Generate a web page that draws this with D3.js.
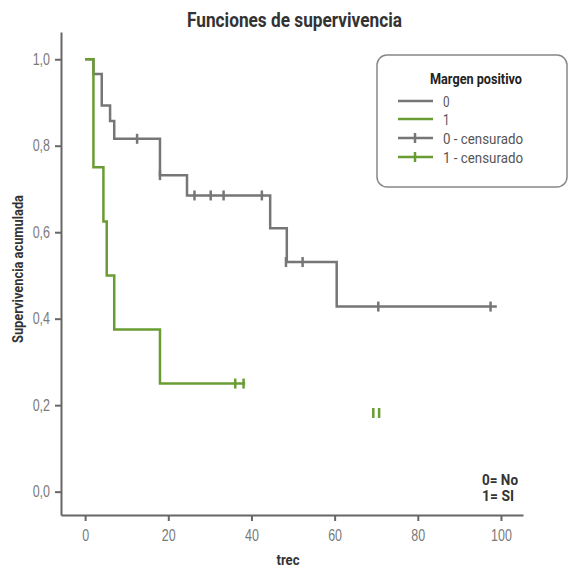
<!DOCTYPE html>
<html>
<head>
<meta charset="utf-8">
<script src="https://cdn.jsdelivr.net/npm/d3@7"></script>
<style>
  body { margin: 0; background: #fff; }
  svg { font-family: Roboto, "Liberation Sans", sans-serif; }
</style>
</head>
<body>
<svg></svg>
<script>
// Data: Kaplan-Meier steps
const timesG0 = [0, 2, 4, 6, 7, 18, 24.5, 44.5, 48.5, 60.5];
const survG0 = [1, 0.966, 0.893, 0.857, 0.816, 0.732, 0.685, 0.609, 0.531, 0.428];
const endG0 = 99;
const censTimeG0 = [12.5, 18, 26.3, 30.2, 33.3, 42.5, 48.3, 52.3, 70.5, 97.5];
const censSurvG0 = [0.816, 0.732, 0.685, 0.685, 0.685, 0.685, 0.531, 0.531, 0.428, 0.428];

const timesG1 = [0, 2, 4.4, 5.2, 7, 18];
const survG1 = [1, 0.75, 0.625, 0.5, 0.375, 0.25];
const endG1 = 38.5;
const censTimeG1 = [36.1, 38.1, 69.3, 70.7];
const censSurvG1 = [0.25, 0.25, 0.182, 0.182];

const xTicks = [0, 20, 40, 60, 80, 100];
const yTicks = [0, 0.2, 0.4, 0.6, 0.8, 1.0];
const legendLabels = ['0', '1', '0 - censurado', '1 - censurado'];

// Constants
const width = 569;
const height = 568;
const gray = '#767676';
const green = '#6a9c34';
const axisColor = '#666';
const squeeze = 0.78; // condensed look

const svg = d3.select('svg')
    .attr('width', width)
    .attr('height', height);

// scales
const x = d3.scaleLinear().domain([-5.8, 105.3]).range([61, 523]);
const y = d3.scaleLinear().domain([-0.054, 1.063]).range([515, 32]);

const comma = d3.formatLocale({decimal: ',', thousands: '.', grouping: [3], currency: ['', '']}).format('.1f');

// axes
const xAxis = svg.append('g')
    .attr('transform', 'translate(0, 515)')
    .call(d3.axisBottom(x).tickValues(xTicks).tickSize(6).tickSizeOuter(0).tickPadding(9));

const yAxis = svg.append('g')
    .attr('transform', 'translate(61, 0)')
    .call(d3.axisLeft(y).tickValues(yTicks).tickSize(6).tickSizeOuter(0).tickPadding(5).tickFormat(comma));

[xAxis, yAxis].forEach(a => {
    a.select('.domain').attr('stroke', axisColor).attr('stroke-width', 2);
    a.selectAll('.tick line').attr('stroke', axisColor).attr('stroke-width', 2);
    a.selectAll('.tick text')
        .attr('fill', '#7a7a7a')
        .style('font-size', '16px')
        .style('font-family', 'inherit');
});
xAxis.selectAll('.tick text').attr('transform', `scale(${squeeze},1)`);
yAxis.selectAll('.tick text')
    .attr('x', -11 / squeeze)
    .attr('transform', `scale(${squeeze},1)`);

// survival curves
const step = d3.line()
    .x(d => x(d[0]))
    .y(d => y(d[1]))
    .curve(d3.curveStepAfter);

function curve(times, surv, end, color) {
    const pts = times.map((t, i) => [t, surv[i]]);
    pts.push([end, surv[surv.length - 1]]);
    svg.append('path')
        .attr('d', step(pts))
        .attr('fill', 'none')
        .attr('stroke', color)
        .attr('stroke-width', 2.5);
}

function censors(times, surv, color) {
    svg.append('g').selectAll('line')
        .data(times).enter().append('line')
        .attr('x1', d => x(d))
        .attr('x2', d => x(d))
        .attr('y1', (d, i) => y(surv[i]) - 5)
        .attr('y2', (d, i) => y(surv[i]) + 5)
        .attr('stroke', color)
        .attr('stroke-width', 2.5);
}

curve(timesG0, survG0, endG0, gray);
censors(censTimeG0, censSurvG0, gray);
curve(timesG1, survG1, endG1, green);
censors(censTimeG1, censSurvG1, green);

// condensed text helper: squeeze to a given width, or by the squeeze factor
function label(parent, txt, xPos, yPos, len, opts) {
    const g = parent.append('g').attr('transform', `translate(${xPos}, ${yPos})`);
    const t = g.append('text')
        .attr('fill', opts.fill || '#333')
        .attr('text-anchor', opts.anchor || 'start')
        .style('font-size', opts.size + 'px')
        .style('font-weight', opts.bold ? 'bold' : 'normal')
        .text(txt);
    if (len) t.attr('textLength', len).attr('lengthAdjust', 'spacingAndGlyphs');
    else t.attr('transform', `scale(${squeeze},1)`);
    return t;
}

// titles
label(svg, 'Funciones de supervivencia', 294.5, 27, 215, {anchor: 'middle', size: 20, bold: true});

const yLab = svg.append('g').attr('transform', 'translate(23, 269) rotate(-90)');
label(yLab, 'Supervivencia acumulada', 0, 0, 148, {anchor: 'middle', size: 14, bold: true});

label(svg, 'trec', 288, 565, 23, {anchor: 'middle', size: 15, bold: true});

// legend
const legend = svg.append('g');
legend.append('rect')
    .attr('x', 377).attr('y', 55)
    .attr('width', 190).attr('height', 132)
    .attr('rx', 10)
    .attr('fill', '#fff')
    .attr('stroke', '#888')
    .attr('stroke-width', 1.5);

label(legend, 'Margen positivo', 476, 84, 92, {anchor: 'middle', size: 15, bold: true, fill: '#222'});

const legendColors = [gray, green, gray, green];
const rowY = [101, 119, 138, 157];
const labelLen = [null, null, 80, 80];

legendLabels.forEach((d, i) => {
    const g = legend.append('g').attr('transform', `translate(0, ${rowY[i]})`);
    g.append('line')
        .attr('x1', 398).attr('x2', 433)
        .attr('stroke', legendColors[i])
        .attr('stroke-width', 2.5);
    if (i >= 2) {
        g.append('line')
            .attr('x1', 415).attr('x2', 415)
            .attr('y1', -5).attr('y2', 5)
            .attr('stroke', legendColors[i])
            .attr('stroke-width', 2.5);
    }
    label(g, d, 443, 5.5, labelLen[i], {size: 15, fill: '#555'});
});

// note
label(svg, '0= No', 482, 485, 36, {size: 14, bold: true});
label(svg, '1= SI', 482, 501, 32, {size: 14, bold: true});
</script>
</body>
</html>
